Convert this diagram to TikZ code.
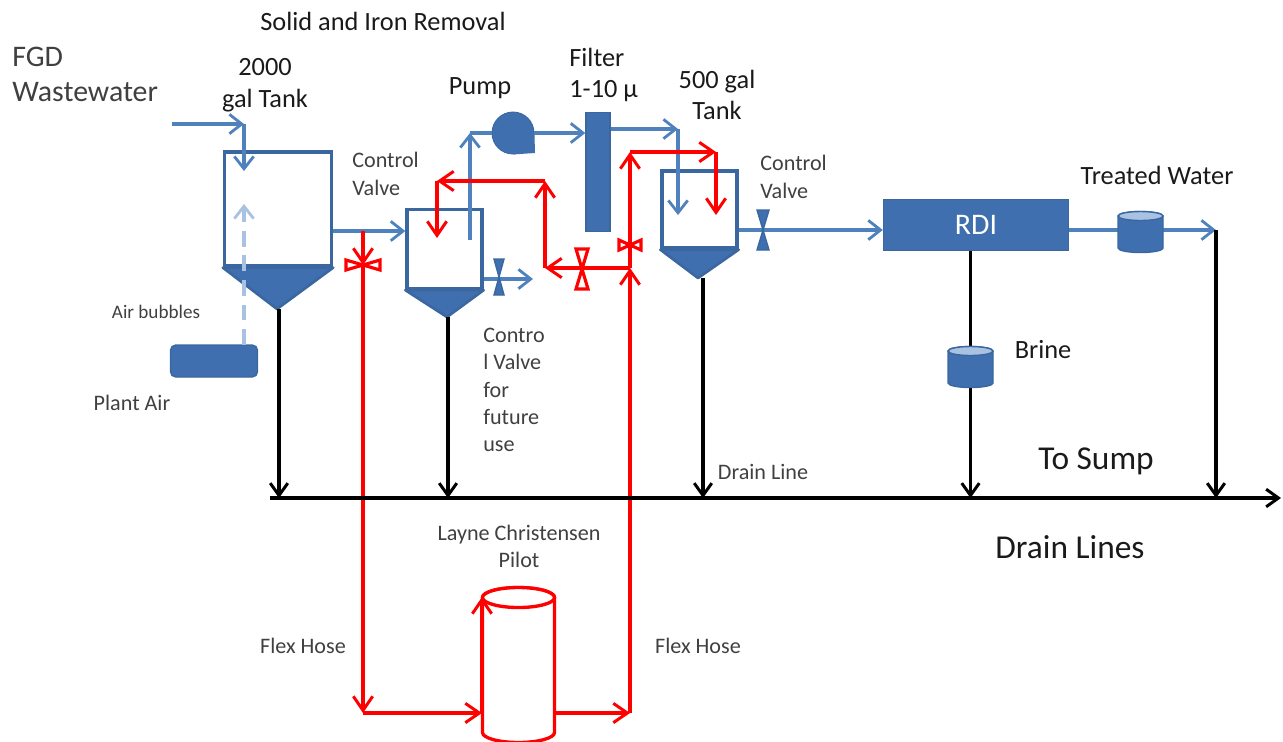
\documentclass[tikz,border=0pt]{standalone}
\usepackage{fontspec}
\setmainfont{Carlito}
\usetikzlibrary{arrows.meta}
\definecolor{PipeBlue}{HTML}{4F81BD}
\definecolor{TankBlue}{HTML}{3F6FAE}
\definecolor{EdgeBlue}{HTML}{3A67A0}
\definecolor{AirBlue}{HTML}{A9C2E2}
\definecolor{HoseRed}{HTML}{FF0000}
\definecolor{SoftBlack}{HTML}{1A1A1A}
\definecolor{DarkGray}{HTML}{404040}
\newcommand{\vvalve}[4]{\path[#4] (#1)++(-#2,-#3) -- ++(2*#2,0) -- ++(-2*#2,2*#3) -- ++(2*#2,0) -- cycle;}
\newcommand{\hvalve}[4]{\path[#4] (#1)++(-#2,-#3) -- ++(0,2*#3) -- ++(2*#2,-2*#3) -- ++(0,2*#3) -- cycle;}
\newcommand{\drumcap}[1]{%
  \path[drumbody] (#1.north west) -- (#1.south west) arc[x radius=0.45cm, y radius=0.09cm, start angle=180, end angle=360] -- (#1.north east) arc[x radius=0.45cm, y radius=0.09cm, start angle=0, end angle=180] -- cycle;
  \path[drumtop] (#1.north) ellipse[x radius=0.45cm, y radius=0.09cm];}
\tikzset{
  tank/.style={draw=EdgeBlue, fill=white, line width=1.9pt, inner sep=0pt},
  cone/.style={draw=EdgeBlue, fill=TankBlue, line width=1.5pt, line join=round},
  solid box/.style={draw=EdgeBlue, fill=TankBlue, line width=0.8pt, inner sep=0pt},
  drum/.style={minimum width=0.9cm, inner sep=0pt, outer sep=0pt},
  drumbody/.style={draw=EdgeBlue, fill=TankBlue, line width=0.8pt},
  drumtop/.style={draw=EdgeBlue, fill=AirBlue, line width=0.8pt},
  arrow/.style={-{Straight Barb[length=7pt,width=11pt,line width=1.6pt]}, line width=2pt, draw=PipeBlue},
  plain/.style={line width=2pt, draw=PipeBlue},
  airarrow/.style={arrow, draw=AirBlue, dash pattern=on 9pt off 5pt},
  hose/.style={-{Straight Barb[length=8pt,width=11pt,line width=1.7pt]}, line width=1.9pt, draw=HoseRed},
  drain/.style={-{Straight Barb[length=7pt,width=10pt,line width=1.7pt]}, line width=1.9pt, draw=black},
  bluevalve/.style={fill=TankBlue, draw=EdgeBlue, line width=0.8pt},
  redvalve/.style={fill=white, draw=HoseRed, line width=1.8pt},
  pilotdrum/.style={minimum width=1.44cm, inner sep=0pt, outer sep=0pt},
  redline/.style={draw=HoseRed, fill=white, line width=1.9pt},
  biglabel/.style={font=\fontsize{19}{20}\selectfont, text=SoftBlack, align=center, inner sep=0pt},
  fgdlabel/.style={font=\fontsize{17}{20}\selectfont, text=DarkGray, align=left, inner sep=0pt},
  midlabel/.style={font=\fontsize{15}{17.5}\selectfont, text=SoftBlack, align=center, inner sep=0pt},
  smalllabel/.style={font=\fontsize{12.6}{15.5}\selectfont, text=DarkGray, align=center, inner sep=0pt},
  tinylabel/.style={font=\fontsize{10.9}{12}\selectfont, text=DarkGray, inner sep=0pt}
}
\begin{document}
\begin{tikzpicture}[x=0.02cm, y=-0.02cm]
\useasboundingbox (0,0) rectangle (1283,741);

\node[tank, minimum width=2.14cm, minimum height=2.28cm] (tankA) at (278,209) {};
\node[tank, minimum width=1.5cm, minimum height=1.58cm] (tankB) at (444.5,249) {};
\node[tank, minimum width=1.5cm, minimum height=1.54cm] (tankC) at (699.5,209.5) {};
\coordinate (apexA) at (277,309);
\coordinate (apexB) at (447,317);
\coordinate (apexC) at (698,278);
\draw[cone] (tankA.south west) -- (tankA.south east) -- (apexA) -- cycle;
\draw[cone] (tankB.south west) -- (tankB.south east) -- (apexB) -- cycle;
\draw[cone] (tankC.south west) -- (tankC.south east) -- (apexC) -- cycle;

\node[solid box, minimum width=0.48cm, minimum height=2.38cm] (filter) at (598,172) {};
\node[solid box, minimum width=3.7cm, minimum height=1.02cm, font=\fontsize{17}{18}\selectfont, text=white] (rdi) at (976,225) {RDI};
\node[solid box, rounded corners=3pt, minimum width=1.74cm, minimum height=0.64cm] (plantair) at (214,361) {};
\node[circle, fill=TankBlue, draw=EdgeBlue, line width=0.5pt, minimum size=0.84cm, inner sep=0pt] (pump) at (513,133) {};
\fill[TankBlue] (pump.center) -- (pump.east) -- (535,153) -- (pump.south) -- cycle;
\node[drum, minimum height=0.64cm] (drumT) at (1140.5,232) {};
\node[drum, minimum height=0.64cm] (drumB) at (970.5,367) {};

\coordinate (feedin) at (172,124);
\coordinate (feedturn) at (244,124);
\coordinate (feedend) at (244,171);
\coordinate (airend) at (244,204);
\coordinate (airstart) at (244,345);
\coordinate (teeA) at (363,231);
\coordinate (bUp) at (470,240);
\coordinate (bTurn) at (470,133);
\coordinate (fTurn) at (678,129);
\coordinate (fEnd) at (678,215);
\coordinate (bOut) at (533,279);
\coordinate (treatEnd) at (1216,230);

\draw[arrow] (feedin) -- (feedturn);
\draw[arrow] (feedturn) -- (feedend);
\draw[airarrow] (airstart) -- (airend);
\draw[arrow] (tankA.east |- teeA) -- (tankB.west |- teeA);
\draw[arrow] (bUp) -- (bTurn);
\draw[plain] (bTurn) -- (pump.west);
\draw[arrow] (pump.east) -- (filter.west |- pump.east);
\draw[arrow] (filter.east |- fTurn) -- (fTurn);
\draw[arrow] (fTurn) -- (fEnd);
\draw[arrow] (tankB.east |- bOut) -- (bOut);
\draw[arrow] (tankC.east |- treatEnd) -- (rdi.west |- treatEnd);
\draw[plain] (rdi.east |- treatEnd) -- (drumT.west |- treatEnd);
\draw[arrow] (drumT.east |- treatEnd) -- (treatEnd);
\drumcap{drumT}

\vvalve{499,277}{5}{18}{bluevalve}
\vvalve{763,230}{6}{20}{bluevalve}

\coordinate (hoseL) at (363,713);
\coordinate (hoseR) at (630,713);
\coordinate (hoseJ) at (630,268);
\coordinate (hoseT) at (630,152);
\coordinate (hoseTR) at (716,152);
\coordinate (hoseTE) at (716,215);
\coordinate (hoseK) at (545,268);
\coordinate (hoseU) at (545,181);
\coordinate (hoseV) at (437,181);
\coordinate (hoseW) at (437,238);
\coordinate (valveA) at (363,265);

\draw[hose] (teeA) -- (valveA);
\draw[hose] (valveA) -- (hoseL);
\draw[hose] (hoseR) -- (hoseJ);
\draw[hose] (hoseJ) -- (hoseT);
\draw[hose] (hoseT) -- (hoseTR);
\draw[hose] (hoseTR) -- (hoseTE);
\draw[hose] (hoseJ) -- (hoseK);
\draw[hose] (hoseK) -- (hoseU);
\draw[hose] (hoseU) -- (hoseV);
\draw[hose] (hoseV) -- (hoseW);
\hvalve{valveA}{17}{5}{redvalve}
\vvalve{582,269}{6}{20}{redvalve}
\hvalve{630,245}{11}{5}{redvalve}

\node[pilotdrum, minimum height=2.7cm] (pilot) at (518.5,665) {};
\path[redline] (pilot.north west) -- (pilot.south west) arc[x radius=0.72cm, y radius=0.2cm, start angle=180, end angle=360] -- (pilot.north east) arc[x radius=0.72cm, y radius=0.2cm, start angle=0, end angle=180] -- cycle;
\path[redline] (pilot.north) ellipse[x radius=0.72cm, y radius=0.2cm];
\coordinate (pilotIn) at (482,713);
\coordinate (pilotOut) at (555,713);
\coordinate (pilotTop) at (482,597);
\draw[hose] (hoseL) -- (pilotIn);
\draw[hose] (pilotOut) -- (hoseR);
\draw[hose] (pilotIn) -- (pilotTop);

\coordinate (mainstart) at (270,498);
\coordinate (mainend) at (1281,498);
\draw[drain] (mainstart) -- (mainend);
\draw[drain] (apexA) ++(2,0) -- (279,498);
\draw[drain] (apexB) ++(1,0) -- (448,498);
\draw[drain] (703,278) -- (703,498);
\draw[line width=1.9pt] (rdi.south -| drumB.center) -- (drumB.north);
\draw[drain] (drumB.south) -- (970.5,498);
\draw[drain] (treatEnd) -- (1216,498);
\drumcap{drumB}

\node[midlabel] (title) at (383,21) {Solid and Iron Removal};
\node[fgdlabel, anchor=west] (fgd) at (12,74) {FGD\\Wastewater};
\node[midlabel, font=\fontsize{15}{18}\selectfont] (tankAlabel) at (265,85) {2000\\gal Tank};
\node[midlabel] (pumplabel) at (480,88) {Pump};
\node[midlabel, anchor=west, align=left] (filterlabel) at (569,75) {Filter\\1-10 µ};
\node[midlabel] (tankClabel) at (717,95) {500 gal\\Tank};
\node[smalllabel, anchor=west, align=left] (ctrlA) at (352,174) {Control\\Valve};
\node[smalllabel, anchor=west, align=left] (ctrlC) at (760,177) {Control\\Valve};
\node[midlabel] (treated) at (1157,175) {Treated Water};
\node[midlabel] (brine) at (1043,350) {Brine};
\node[tinylabel] (airb) at (156,312) {Air bubbles};
\node[smalllabel] (plantlabel) at (132,403) {Plant Air};
\node[smalllabel, anchor=west, align=left] (ctrlB) at (483,390) {Contro\\l Valve\\for\\future\\use};
\node[smalllabel] (drainl) at (763,472) {Drain Line};
\node[biglabel] (sump) at (1096,461) {To Sump};
\node[biglabel] (drains) at (1070,547) {Drain Lines};
\node[smalllabel] (layne) at (519,546) {Layne Christensen\\Pilot};
\node[smalllabel] (flexL) at (303,646) {Flex Hose};
\node[smalllabel] (flexR) at (698,646) {Flex Hose};
\end{tikzpicture}
\end{document}
